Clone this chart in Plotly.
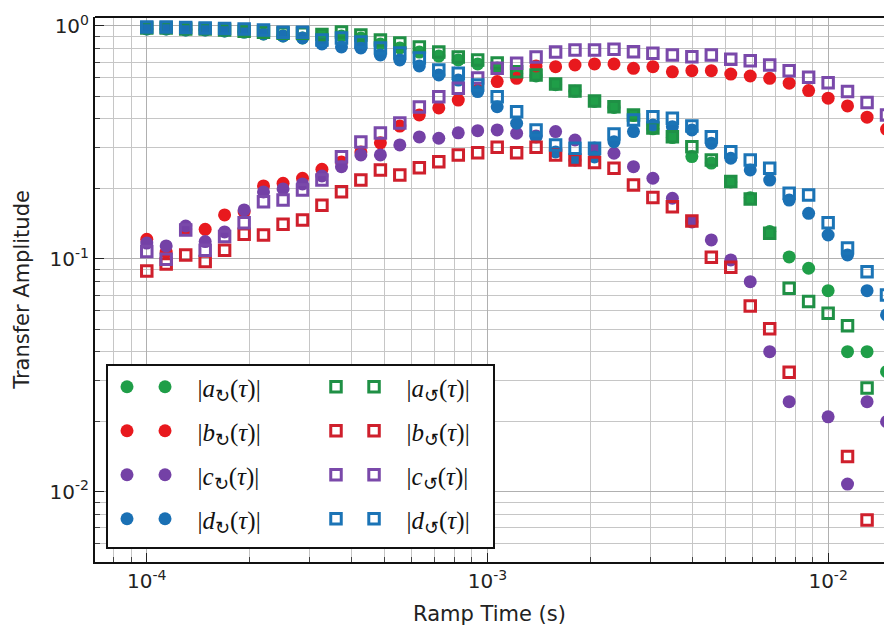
import plotly.graph_objects as go

# Ramp times (s)
ramp_time = [1.000e-4, 1.140e-4, 1.301e-4, 1.484e-4, 1.692e-4, 1.931e-4, 2.201e-4, 2.512e-4, 2.865e-4, 3.267e-4,
             3.728e-4, 4.250e-4, 4.850e-4, 5.530e-4, 6.310e-4, 7.197e-4, 8.210e-4, 9.360e-4, 1.068e-3, 1.218e-3,
             1.389e-3, 1.585e-3, 1.807e-3, 2.062e-3, 2.352e-3, 2.683e-3, 3.059e-3, 3.490e-3, 3.981e-3, 4.541e-3,
             5.179e-3, 5.907e-3, 6.737e-3, 7.685e-3, 8.765e-3, 1.000e-2, 1.140e-2, 1.301e-2, 1.484e-2]

# filled-circle series
a_filled = [0.971, 0.971, 0.961, 0.961, 0.952, 0.942, 0.924, 0.906, 0.888, 0.915, 0.906, 0.888, 0.837, 0.805,
            0.773, 0.743, 0.715, 0.687, 0.660, 0.625, 0.610, 0.560, 0.524, 0.474, 0.447, 0.413, 0.362, 0.332,
            0.275, 0.258, 0.214, 0.183, 0.131, 0.102, 0.0912, 0.0731, 0.040, 0.040, 0.0328]
b_filled = [0.1215, 0.107, 0.1345, 0.134, 0.1545, 0.159, 0.2057, 0.2113, 0.222, 0.2427, 0.261, 0.288, 0.315,
            0.372, 0.415, 0.445, 0.481, 0.531, 0.577, 0.596, 0.674, 0.669, 0.680, 0.687, 0.687, 0.658, 0.669,
            0.636, 0.643, 0.643, 0.622, 0.610, 0.596, 0.568, 0.528, 0.490, 0.454, 0.406, 0.360]
c_filled = [0.117, 0.1137, 0.1385, 0.1187, 0.1306, 0.1623, 0.194, 0.1998, 0.21, 0.227, 0.249, 0.2796, 0.2796,
            0.3085, 0.334, 0.3296, 0.348, 0.3553, 0.3578, 0.3463, 0.3372, 0.352, 0.324, 0.2995, 0.2842, 0.249,
            0.222, 0.1822, 0.1441, 0.1207, 0.099, 0.0799, 0.040, 0.0244, None, 0.021, 0.0108, 0.0244, 0.020]
d_filled = [0.971, 0.971, 0.961, 0.961, 0.952, 0.942, 0.924, 0.906, 0.888, 0.837, 0.813, 0.805, 0.751, 0.715,
            0.674, 0.616, 0.586, 0.523, 0.450, 0.3823, 0.334, 0.288, 0.266, 0.274, 0.3188, 0.352, 0.3759,
            0.3696, 0.3578, 0.3138, 0.2705, 0.241, 0.218, 0.179, 0.157, 0.1267, 0.104, 0.0731, 0.0575]

# open-square series
a_square = [0.98, 0.98, 0.97, 0.97, 0.96, 0.95, 0.94, 0.93, 0.93, 0.92, 0.942, 0.915, 0.871, 0.845, 0.813,
            0.773, 0.736, 0.715, 0.694, 0.636, 0.616, 0.564, 0.526, 0.477, 0.450, 0.415, 0.365, 0.335, 0.303,
            0.266, 0.215, 0.181, 0.129, 0.0748, 0.0656, 0.0585, 0.0516, 0.0279, None]
b_square = [0.0888, 0.0952, 0.104, 0.0974, 0.109, 0.1276, 0.1267, 0.141, 0.147, 0.17, 0.1944, 0.218, 0.241,
            0.229, 0.246, 0.2616, 0.2796, 0.286, 0.3016, 0.286, 0.3016, 0.2796, 0.266, 0.2596, 0.245, 0.2077,
            0.1836, 0.1677, 0.1456, 0.1017, 0.0921, 0.0628, 0.0501, 0.0326, None, None, 0.01417, 0.00758, None]
c_square = [0.1075, 0.0997, 0.1332, 0.109, 0.1247, 0.1431, 0.1762, 0.1791, 0.1978, 0.218, 0.2748, 0.3178,
            0.3473, 0.3834, 0.449, 0.497, 0.540, 0.598, 0.658, 0.692, 0.736, 0.773, 0.789, 0.789, 0.794, 0.776,
            0.763, 0.751, 0.738, 0.751, 0.720, 0.710, 0.680, 0.643, 0.602, 0.571, 0.523, 0.469, 0.415]
d_square = [0.99, 0.99, 0.985, 0.98, 0.975, 0.97, 0.96, 0.94, 0.94, 0.871, 0.888, 0.854, 0.805, 0.766, 0.729,
            0.647, 0.627, 0.558, 0.497, 0.4286, 0.3578, 0.3085, 0.2986, 0.2986, 0.344, 0.395, 0.408, 0.4016,
            0.372, 0.335, 0.2887, 0.266, 0.245, 0.1914, 0.1883, 0.1431, 0.1115, 0.0882, 0.070]

letters = ["a", "b", "c", "d"]
filled_colors = ["#1f9e48", "#e8191e", "#7441a6", "#1a70b4"]
square_colors = ["#1f9045", "#cf1f2c", "#7a49aa", "#1b74b6"]

x_tickvals = [1e-4, 1e-3, 1e-2]
x_ticktext = ["10<sup>-4</sup>", "10<sup>-3</sup>", "10<sup>-2</sup>"]
y_tickvals = [1e-2, 1e-1, 1.0]
y_ticktext = ["10<sup>-2</sup>", "10<sup>-1</sup>", "10<sup>0</sup>"]

minor_vals = [m * 10.0 ** e for e in range(-5, 1) for m in range(2, 10)]

circle_marker = lambda col: dict(symbol="circle", size=13, color=col, line=dict(width=0))
square_marker = lambda col: dict(symbol="square-open", size=10.5, color=col, line=dict(width=3, color=col))

fig = go.Figure()

# legend-only twins (first of the two legend markers in each row, matplotlib numpoints=2 style)
for i, col in enumerate(filled_colors):
    fig.add_trace(go.Scatter(x=[None], y=[None], mode="markers", name="\u00a0", legend="legend",
                             legendgroup=f"F{i}", hoverinfo="skip", marker=circle_marker(col)))
for i, col in enumerate(square_colors):
    fig.add_trace(go.Scatter(x=[None], y=[None], mode="markers", name="\u00a0", legend="legend3",
                             legendgroup=f"S{i}", hoverinfo="skip", marker=square_marker(col)))

for i, (ys, col) in enumerate(zip([a_filled, b_filled, c_filled, d_filled], filled_colors)):
    lab = f'\u00a0\u00a0|<i>{letters[i]}</i><sub>↻</sub>(<i>τ</i>)|'
    fig.add_trace(go.Scatter(x=ramp_time, y=ys, mode="markers", name=lab, legend="legend2",
                             legendgroup=f"f{i}", marker=circle_marker(col)))

for i, (ys, col) in enumerate(zip([a_square, b_square, c_square, d_square], square_colors)):
    lab = f'\u00a0\u00a0|<i>{letters[i]}</i><sub>↺</sub>(<i>τ</i>)|'
    fig.add_trace(go.Scatter(x=ramp_time, y=ys, mode="markers", name=lab, legend="legend4",
                             legendgroup=f"s{i}", marker=square_marker(col)))

grid_major = "#b0b0b0"
grid_minor = "#c6c6c6"
tick_font = dict(family="DejaVu Sans", size=20, color="#222222")
title_font = dict(family="DejaVu Sans", size=21, color="#222222")

common_axis = dict(
    type="log", ticks="inside", ticklen=9, tickwidth=1.2, tickcolor="#222",
    showline=True, linecolor="#111", linewidth=2,
    showgrid=True, gridcolor=grid_major, gridwidth=1,
    minor=dict(tickmode="array", tickvals=minor_vals, ticks="inside", ticklen=5,
               tickcolor="#444", showgrid=True, gridcolor=grid_minor, gridwidth=1),
    tickfont=tick_font, zeroline=False, automargin=False,
)
fig.update_xaxes(range=[-4.152, -1.836], tickmode="array", tickvals=x_tickvals, ticktext=x_ticktext,
                 title=dict(text="Ramp Time (s)", font=title_font, standoff=15), **common_axis)
fig.update_yaxes(range=[-2.301, 0.0386], tickmode="array", tickvals=y_tickvals, ticktext=y_ticktext,
                 title=dict(text="Transfer Amplitude", font=title_font, standoff=14), **common_axis)

legend_font = dict(family="Liberation Serif", size=25, color="#111111")
leg_common = dict(y=0.3633, xanchor="left", yanchor="top", bgcolor="rgba(0,0,0,0)",
                  borderwidth=0, font=legend_font, tracegroupgap=8.5, itemsizing="trace")
fig.update_layout(
    width=884, height=626,
    margin=dict(l=95, r=0, t=17, b=64, autoexpand=False),
    paper_bgcolor="white", plot_bgcolor="white",
    showlegend=True,
    legend=dict(x=0.0152, **leg_common),
    legend2=dict(x=0.0634, **leg_common),
    legend3=dict(x=0.2801, **leg_common),
    legend4=dict(x=0.3283, **leg_common),
    shapes=[
        dict(type="rect", xref="paper", yref="paper", x0=0.0152, x1=0.5057, y0=0.0257, y1=0.3615,
             line=dict(color="#111", width=2), fillcolor="white", layer="above"),
        dict(type="line", xref="paper", yref="paper", x0=0, x1=1, y0=1, y1=1,
             line=dict(color="#111", width=2), layer="above"),
    ],
)

# remove the browser's default 8px page margin so the 884x626 figure fills the window exactly
fig.write_html("out.html", config={"displayModeBar": False},
               post_script="document.body.style.margin='0';document.body.style.overflow='hidden';")
